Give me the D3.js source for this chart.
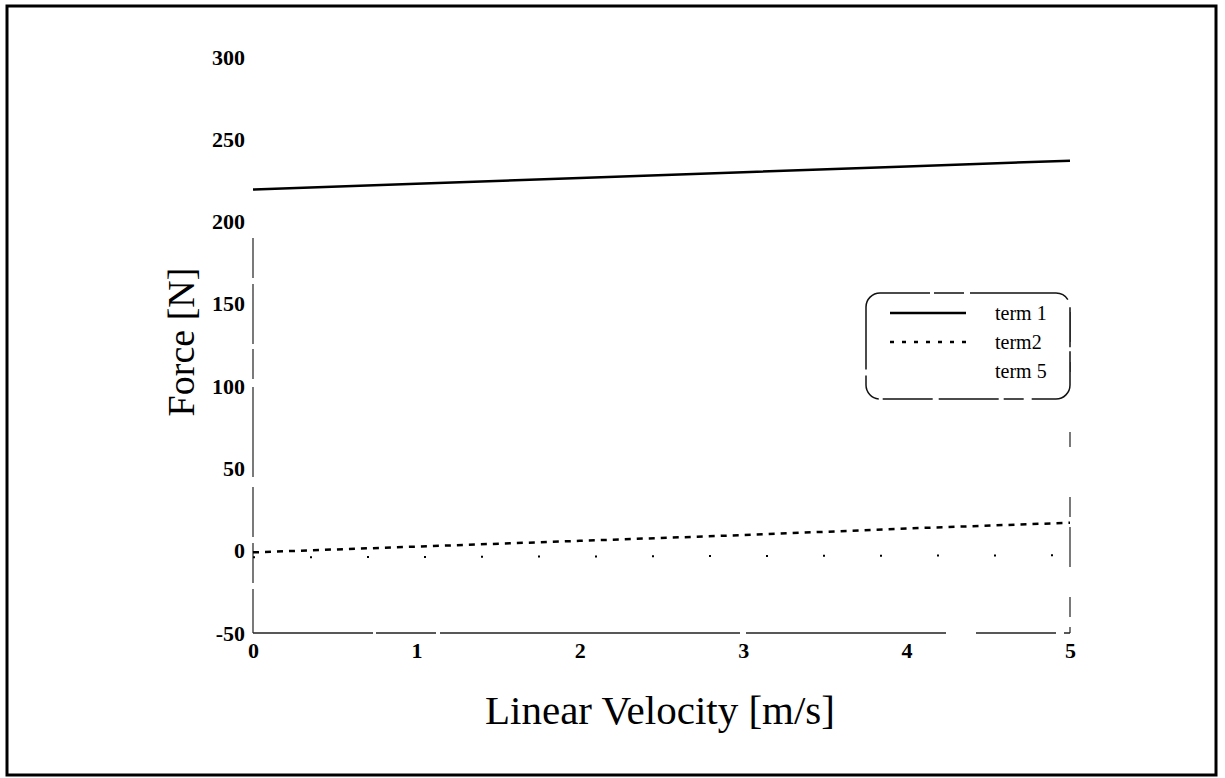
<!DOCTYPE html>
<html><head><meta charset="utf-8">
<script src="https://cdn.jsdelivr.net/npm/d3@7"></script>
<style>body{margin:0;background:#fff}svg{display:block}</style>
</head><body>
<svg id="c" width="1225" height="778"></svg>
<script>
const velocity = [0, 1, 2, 3, 4, 5];
const term1 = [219.5, 223, 226.5, 230, 233.5, 237];
const term2 = [-1, 2.5, 6, 9.5, 13.5, 17];
const term5 = [-4, -3.8, -3.5, -3.2, -3, -2.8];
const yTicks = [-50, 0, 50, 100, 150, 200, 250, 300];
const xTicks = [0, 1, 2, 3, 4, 5];
const legendNames = ["term 1", "term2", "term 5"];

const svg = d3.select("#c");
const x = d3.scaleLinear().domain([0, 5]).range([253, 1070]);
const y = d3.scaleLinear().domain([-50, 300]).range([633, 57]);

// outer frame
svg.append("rect").attr("x", 7).attr("y", 6).attr("width", 1209).attr("height", 769)
  .attr("fill", "none").attr("stroke", "#000").attr("stroke-width", 3);

// axes (faded scan look)
const axisG = svg.append("g");
axisG.append("line").attr("x1", x(0)).attr("x2", x(5)).attr("y1", y(-50)).attr("y2", y(-50))
  .attr("stroke", "#222").attr("stroke-width", 1.5).attr("stroke-dasharray", "120,3,60,4,300,6,200,30,80,8");
axisG.append("line").attr("x1", x(0)).attr("x2", x(0)).attr("y1", y(190)).attr("y2", y(-50))
  .attr("stroke", "#222").attr("stroke-width", 1.2).attr("stroke-dasharray", "40,6,60,5,30,8,90,10,50,6");
axisG.append("line").attr("x1", x(5)).attr("x2", x(5)).attr("y1", y(145)).attr("y2", y(-50))
  .attr("stroke", "#222").attr("stroke-width", 1.2).attr("stroke-dasharray", "30,20,10,60,15,50,20,10,40");

// y tick labels
const yAxis = d3.axisLeft(y).tickValues(yTicks).tickSize(0).tickPadding(8).tickFormat(d => String(d));
const ga = svg.append("g").attr("transform", `translate(${x(0)},0)`).call(yAxis);
ga.select(".domain").remove();
ga.selectAll("text").attr("font-family", "Liberation Serif").attr("font-weight", "bold")
  .attr("font-size", 22).attr("fill", "#000");

// x tick labels
const xAxis = d3.axisBottom(x).tickValues(xTicks).tickSize(0).tickPadding(9).tickFormat(d => String(d));
const gx = svg.append("g").attr("transform", `translate(0,${y(-50)})`).call(xAxis);
gx.select(".domain").remove();
gx.selectAll("text").attr("font-family", "Liberation Serif").attr("font-weight", "bold")
  .attr("font-size", 22).attr("fill", "#000");

// titles
svg.append("text").attr("x", 660).attr("y", 724).attr("text-anchor", "middle")
  .attr("font-family", "Liberation Serif").attr("font-size", 41).text("Linear Velocity [m/s]");
svg.append("text").attr("transform", "translate(194,342) rotate(-90)").attr("text-anchor", "middle")
  .attr("font-family", "Liberation Serif").attr("font-size", 38).text("Force [N]");

// lines
const line = d3.line().x((d, i) => x(velocity[i])).y(d => y(d));
svg.append("path").datum(term1).attr("d", line).attr("fill", "none")
  .attr("stroke", "#000").attr("stroke-width", 2.5);
svg.append("path").datum(term2).attr("d", line).attr("fill", "none")
  .attr("stroke", "#000").attr("stroke-width", 2.5).attr("stroke-dasharray", "6,6");
svg.append("path").datum(term5).attr("d", line).attr("fill", "none")
  .attr("stroke", "#000").attr("stroke-width", 2).attr("stroke-dasharray", "2,55");

// legend
const lg = svg.append("g");
lg.append("rect").attr("x", 866).attr("y", 293).attr("width", 204).attr("height", 106)
  .attr("rx", 14).attr("ry", 14).attr("fill", "#fff").attr("stroke", "#111").attr("stroke-width", 1.5)
  .attr("stroke-dasharray", "50,4,30,6,100,8,40,4,80,8,20,5,60,6");
const styles = [{w: 2.5, d: null}, {w: 2.5, d: "4,8"}, {w: 0, d: null}];
legendNames.forEach((n, i) => {
  const yy = 313 + i * 29;
  if (styles[i].w > 0) {
    lg.append("line").attr("x1", 890).attr("x2", 966).attr("y1", yy).attr("y2", yy)
      .attr("stroke", "#000").attr("stroke-width", styles[i].w).attr("stroke-dasharray", styles[i].d);
  }
  lg.append("text").attr("x", 995).attr("y", yy + 7).attr("font-family", "Liberation Serif")
    .attr("font-size", 20).text(n);
});
</script>
</body></html>
